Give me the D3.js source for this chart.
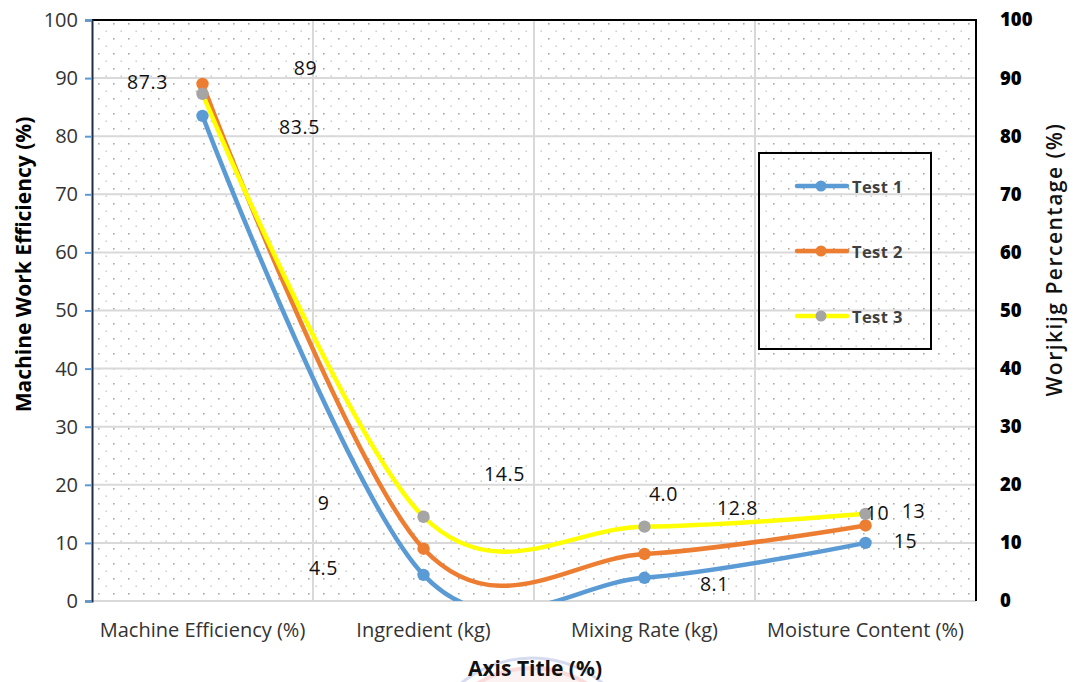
<!DOCTYPE html>
<html>
<head>
<meta charset="utf-8">
<script src="https://cdn.jsdelivr.net/npm/d3@7"></script>
<style>
  html, body { margin: 0; padding: 0; background: #fff; }
  svg { display: block; }
  text { font-family: "Open Sans", Lato, sans-serif; }
</style>
</head>
<body>
<svg id="chart" width="1075" height="682"></svg>
<script>
// ---- data ----
const categories = ["Machine Efficiency (%)", "Ingredient (kg)", "Mixing Rate (kg)", "Moisture Content (%)"];
const test1 = [83.5, 4.5, 4.0, 10];
const test2 = [89, 9, 8.1, 13];
const test3 = [87.3, 14.5, 12.8, 15];
const test1Labels = ["83.5", "4.5", "4.0", "10"];
const test2Labels = ["89", "9", "8.1", "13"];
const test3Labels = ["87.3", "14.5", "12.8", "15"];
const yTicks = [0, 10, 20, 30, 40, 50, 60, 70, 80, 90, 100];
const seriesNames = ["Test 1", "Test 2", "Test 3"];

// ---- layout ----
const FONT = "'Open Sans', Lato, sans-serif";
const plot = { left: 92, top: 20, right: 976, bottom: 601 };

const svg = d3.select("#chart");

const x = d3.scaleBand().domain(categories).range([plot.left, plot.right]).padding(0);
const y = d3.scaleLinear().domain([0, 100]).range([plot.bottom, plot.top]);

const series = [
  { name: seriesNames[0], values: test1, labels: test1Labels, line: "#5b9bd5", marker: "#5b9bd5",
    offsets: [[97, 11], [-100, -7], [19, -84], [12, -30]] },
  { name: seriesNames[1], values: test2, labels: test2Labels, line: "#ed7d31", marker: "#ed7d31",
    offsets: [[103, -16], [-100, -46], [70, 30], [48, -15]] },
  { name: seriesNames[2], values: test3, labels: test3Labels, line: "#ffff00", marker: "#a5a5a5",
    offsets: [[-55, -12], [81, -43], [93, -19], [40, 27]] }
];

// ---- dotted background pattern ----
const defs = svg.append("defs");
const pat = defs.append("pattern")
  .attr("id", "dots").attr("patternUnits", "userSpaceOnUse")
  .attr("x", plot.left + 6).attr("y", plot.top + 3)
  .attr("width", 15).attr("height", 15);
pat.append("rect").attr("x", 0).attr("y", 0).attr("width", 1.6).attr("height", 1.6).attr("fill", "#a8a8a8");
pat.append("rect").attr("x", 7.5).attr("y", 7.5).attr("width", 1.4).attr("height", 1.4).attr("fill", "#c4c4c4");

defs.append("clipPath").attr("id", "plotClip")
  .append("rect")
  .attr("x", plot.left).attr("y", plot.top)
  .attr("width", plot.right - plot.left).attr("height", plot.bottom - plot.top);

// faint logo behind the axis title
const logo = svg.append("g").attr("opacity", 0.4);
logo.append("circle").attr("cx", 532).attr("cy", 770).attr("r", 112)
  .attr("fill", "none").attr("stroke", "#9aa6d8").attr("stroke-width", 3);
logo.append("circle").attr("cx", 532).attr("cy", 772).attr("r", 104)
  .attr("fill", "#fbe0e0").attr("stroke", "#f2a7a7").attr("stroke-width", 4);

svg.append("rect")
  .attr("x", plot.left).attr("y", plot.top)
  .attr("width", plot.right - plot.left).attr("height", plot.bottom - plot.top)
  .attr("fill", "url(#dots)");

// ---- gridlines ----
const grid = svg.append("g");
grid.selectAll("line.h").data(yTicks.filter(t => t > 0 && t < 100)).join("line")
  .attr("x1", plot.left).attr("x2", plot.right)
  .attr("y1", d => y(d)).attr("y2", d => y(d))
  .attr("stroke", "#d9d9d9").attr("stroke-width", 2);
grid.selectAll("line.v").data(categories.slice(1)).join("line")
  .attr("x1", d => x(d)).attr("x2", d => x(d))
  .attr("y1", plot.top).attr("y2", plot.bottom)
  .attr("stroke", "#d9d9d9").attr("stroke-width", 2);
// bottom axis line
grid.append("line")
  .attr("x1", plot.left).attr("x2", plot.right)
  .attr("y1", plot.bottom).attr("y2", plot.bottom)
  .attr("stroke", "#d9d9d9").attr("stroke-width", 2);

// frame: black top and right, dark left axis
svg.append("path")
  .attr("d", `M${plot.left},${plot.top}H${plot.right}V${plot.bottom}`)
  .attr("fill", "none").attr("stroke", "#000").attr("stroke-width", 2);

// ---- left axis ----
const yAxisL = d3.axisLeft(y).tickValues(yTicks).tickSize(7).tickPadding(7);
const gL = svg.append("g").attr("transform", `translate(${plot.left},0)`).call(yAxisL);
gL.select(".domain").attr("stroke", "#1f2d4a").attr("stroke-width", 2);
gL.selectAll(".tick line").attr("stroke", "#5b9bd5").attr("stroke-width", 2);
gL.selectAll(".tick text").attr("font-size", 20).attr("fill", "#333").attr("font-family", FONT);

// ---- right axis ----
const yAxisR = d3.axisRight(y).tickValues(yTicks).tickSize(0).tickPadding(24);
const gR = svg.append("g").attr("transform", `translate(${plot.right},0)`).call(yAxisR);
gR.select(".domain").remove();
gR.selectAll(".tick text").attr("font-size", 18.5).attr("font-weight", 800).attr("fill", "#000")
  .attr("font-family", FONT);

// ---- category axis ----
const xAxis = d3.axisBottom(x).tickSize(0).tickPadding(22);
const gX = svg.append("g").attr("transform", `translate(0,${plot.bottom})`).call(xAxis);
gX.select(".domain").remove();
gX.selectAll(".tick text").attr("font-size", 20).attr("fill", "#333").attr("font-family", FONT);

// ---- axis titles ----
svg.append("text")
  .attr("transform", `translate(31,${(plot.top + plot.bottom) / 2 - 46}) rotate(-90)`)
  .attr("text-anchor", "middle").attr("font-size", 21).attr("font-weight", 700).attr("fill", "#000")
  .text("Machine Work Efficiency (%)");
svg.append("text")
  .attr("transform", `translate(1062,${(plot.top + plot.bottom) / 2 - 51}) rotate(-90)`)
  .attr("text-anchor", "middle").attr("font-size", 21).attr("font-weight", 600)
  .attr("letter-spacing", 1.5).attr("fill", "#111")
  .text("Worjkijg Percentage (%)");
svg.append("text")
  .attr("x", 535).attr("y", 676)
  .attr("text-anchor", "middle").attr("font-size", 21).attr("font-weight", 700).attr("fill", "#111")
  .text("Axis Title (%)");

// ---- lines ----
const line = d3.line()
  .x((d, i) => x(categories[i]) + x.bandwidth() / 2)
  .y(d => y(d))
  .curve(d3.curveCatmullRom.alpha(0));

const linesG = svg.append("g").attr("clip-path", "url(#plotClip)");
series.forEach(s => {
  linesG.append("path")
    .attr("d", line(s.values))
    .attr("fill", "none").attr("stroke", s.line).attr("stroke-width", 4.5)
    .attr("stroke-linejoin", "round").attr("stroke-linecap", "round");
  linesG.selectAll(null).data(s.values).join("circle")
    .attr("cx", (d, i) => x(categories[i]) + x.bandwidth() / 2)
    .attr("cy", d => y(d))
    .attr("r", 6.2)
    .attr("fill", s.marker);
});

// ---- data labels ----
const labelsG = svg.append("g");
series.forEach(s => {
  labelsG.selectAll(null).data(s.values).join("text")
    .attr("x", (d, i) => x(categories[i]) + x.bandwidth() / 2 + s.offsets[i][0])
    .attr("y", (d, i) => y(d) + s.offsets[i][1])
    .attr("text-anchor", "middle").attr("dominant-baseline", "central")
    .attr("font-size", 19.5).attr("letter-spacing", 0.6).attr("fill", "#111")
    .text((d, i) => s.labels[i]);
});

// ---- legend ----
const legend = svg.append("g");
legend.append("rect")
  .attr("x", 759).attr("y", 153).attr("width", 172).attr("height", 196)
  .attr("fill", "none").attr("stroke", "#000").attr("stroke-width", 2);
const legendY = d3.scalePoint().domain(seriesNames).range([186, 316]);
series.forEach(s => {
  const ly = legendY(s.name);
  legend.append("line")
    .attr("x1", 797).attr("x2", 847).attr("y1", ly).attr("y2", ly)
    .attr("stroke", s.line).attr("stroke-width", 4.5).attr("stroke-linecap", "round");
  legend.append("circle").attr("cx", 821).attr("cy", ly).attr("r", 5.5).attr("fill", s.marker);
  legend.append("text")
    .attr("x", 852).attr("y", ly).attr("dominant-baseline", "central")
    .attr("font-size", 16.5).attr("font-weight", 700).attr("letter-spacing", 0.4).attr("fill", "#404040")
    .text(s.name);
});
</script>
</body>
</html>
